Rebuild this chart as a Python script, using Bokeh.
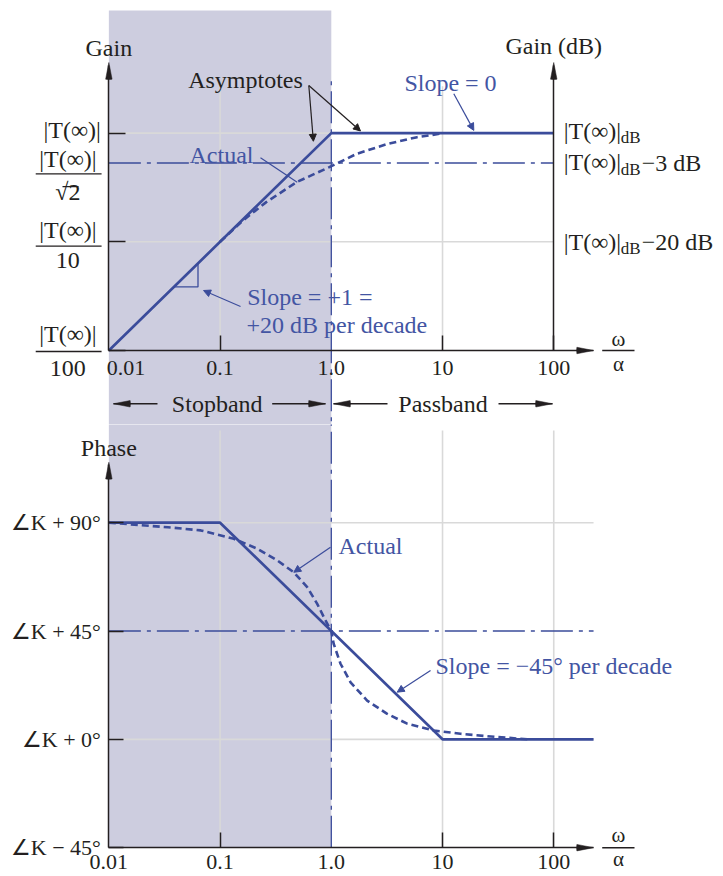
import numpy as np
from bokeh.plotting import figure
from bokeh.layouts import column
from bokeh.models import Range1d, FixedTicker, LinearAxis, Arrow, NormalHead
from bokeh.core.properties import value
from bokeh.embed import file_html
from bokeh.resources import INLINE

# ---------------- data ----------------
freq_ticks = [0.01, 0.1, 1.0, 10, 100]
freq_tick_labels = ["0.01", "0.1", "1.0", "10", "100"]
freq_minor_ticks = [0.1, 10, 100]

gain_asym_w = [0.01, 1.0, 100]
gain_asym_db = [-40, 0, 0]
gain_act_w = [0.1, 0.16, 0.26, 0.49, 0.95, 1.7, 3.2, 5.9, 9.6]
gain_act_db = [-20.0, -16.1, -12.7, -9.0, -6.3, -3.8, -2.0, -0.75, -0.1]
gain_ticks_db = [0, -20, -40]
half_power_db = -5.5          # level at which the "-3 dB" line is drawn

phase_asym_w = [0.01, 0.1, 10, 228]
phase_asym_deg = [90, 90, 0, 0]
phase_act_w = [0.01, 0.034, 0.067, 0.133, 0.216, 0.327, 0.46, 0.607, 0.747,
               0.887, 1.0, 1.05, 1.21, 1.49, 2.1, 3.18, 4.81, 8.35, 14.5, 30, 60]
phase_act_deg = [90, 88.1, 86.8, 83.3, 79.2, 74.3, 69.4, 63.2, 56.3,
                 49.4, 45, 39.7, 31.4, 23.7, 16.1, 10.6, 6.5, 3.7, 2.3, 1.0, 0]
phase_ticks = [90, 45, 0, -45]
phase_tick_labels = ["∠K + 90°", "∠K + 45°", "∠K + 0°", "∠K − 45°"]

stop_lo, corner, pass_hi = 0.01, 1.0, 100
axis_end_w = 228

# ---------------- style ----------------
FONT = "Liberation Serif"
INK = "#231F20"
BLUE = "#3B4C9B"
TBLUE = "#4355A3"
SHADE = "#CDCDDF"
GRID = "#D9D9D9"
DASHDOT = "32 6 4 6"
TS = "24px"

W = 723
H1, H2 = 424, 452
XR = (10 ** -2.9743, 10 ** 3.5263)


def txt(p, x, y, s, size=TS, color=INK, align="left", baseline="alphabetic",
        xo=0, yo=0, style="normal"):
    p.text(x=[x], y=[y], text=[s], text_font=value(FONT), text_font_size=value(size),
           text_color=color, text_align=align, text_baseline=baseline,
           x_offset=xo, y_offset=yo, text_font_style=style)


def head(p, x, y, direction_deg, color=INK):
    half = 11
    p.wedge(x=[x], y=[y], radius=17, radius_units="screen",
            start_angle=np.deg2rad(direction_deg - half),
            end_angle=np.deg2rad(direction_deg + half),
            fill_color=color, line_color=color, line_width=0.5)


def arrow(p, xs, ys, xe, ye, color=INK, width=1.2):
    p.add_layout(Arrow(end=NormalHead(size=7, fill_color=color, line_color=color),
                       x_start=xs, y_start=ys, x_end=xe, y_end=ye,
                       line_color=color, line_width=width))


def base_fig(h, yr):
    p = figure(width=W, height=h, x_axis_type="log", x_range=Range1d(*XR),
               y_range=Range1d(*yr), output_backend="svg", toolbar_location=None,
               min_border=0, outline_line_color=None)
    p.grid.visible = False
    return p


def style_xaxis(ax, fixed, labels, standoff):
    ax.fixed_location = fixed
    ax.bounds = (stop_lo, axis_end_w)
    ax.ticker = FixedTicker(ticks=freq_ticks, minor_ticks=freq_minor_ticks)
    ax.major_label_overrides = labels
    ax.major_tick_in = 0
    ax.major_tick_out = 0
    ax.minor_tick_in = 15
    ax.minor_tick_out = 0
    ax.minor_tick_line_color = INK
    ax.minor_tick_line_width = 1.5
    ax.axis_line_color = INK
    ax.axis_line_width = 1.5
    ax.major_label_standoff = standoff
    ax.major_label_text_font = FONT
    ax.major_label_text_font_size = "22px"
    ax.major_label_text_color = INK


# ======================= GAIN PANEL =======================
p1 = base_fig(H1, (-53.615, 24.398))
p1.quad(left=stop_lo, right=corner, bottom=-60, top=22.56, fill_color=SHADE, line_color=None)

# grid
p1.segment(x0=[0.1, 10], y0=[-40, -40], x1=[0.1, 10], y1=[8.6, 8.6], line_color=GRID, line_width=1.6)
p1.segment(x0=[stop_lo, stop_lo], y0=[0, -20], x1=[pass_hi, pass_hi], y1=[0, -20], line_color=GRID, line_width=1.6)

# reference lines
p1.segment(x0=[corner], y0=[-60], x1=[corner], y1=[10.0], line_color=BLUE, line_width=1.3, line_dash=DASHDOT)
p1.line([stop_lo, pass_hi], [half_power_db, half_power_db], line_color=BLUE, line_width=1.3, line_dash=DASHDOT)

# curves
p1.line(gain_act_w, gain_act_db, line_color=BLUE, line_width=2.6, line_dash="7 4")
p1.line(gain_asym_w, gain_asym_db, line_color=BLUE, line_width=2.7)

# slope triangle
p1.line([0.0385, 0.0633, 0.0633], [-28.3, -28.3, -23.97], line_color=BLUE, line_width=1.3)

# axes
xa1 = p1.xaxis[0]
style_xaxis(xa1, -40, {0.01: "", 0.1: "0.1", 1.0: "1.0", 10: "10", 100: "100"}, 10)
ya1 = p1.yaxis[0]
ya1.fixed_location = stop_lo
ya1.bounds = (-40, 12.5)
ya1.ticker = FixedTicker(ticks=gain_ticks_db)
ya1.major_tick_in = 17
ya1.major_tick_out = 0
ya1.major_tick_line_color = INK
ya1.major_tick_line_width = 1.5
ya1.minor_tick_line_color = None
ya1.major_label_text_color = None
ya1.axis_line_color = INK
ya1.axis_line_width = 1.5
ra = LinearAxis(fixed_location=pass_hi, ticker=FixedTicker(ticks=[]), bounds=(-40, 12.5),
                axis_line_color=INK, axis_line_width=1.5, major_label_text_color=None,
                major_tick_line_color=None, minor_tick_line_color=None)
p1.add_layout(ra, "right")

head(p1, axis_end_w, -40, 180)
head(p1, stop_lo, 12.99, 270)
head(p1, pass_hi, 12.99, 270)

# manual 0.01 label (shifted right in the reference)
txt(p1, stop_lo, -40, "0.01", size="22px", align="left", baseline="top", xo=-2, yo=10)

# omega / alpha
txt(p1, 382, -37.8, "ω", size="21px", align="center", baseline="middle")
txt(p1, 382, -42.4, "α", size="21px", align="center", baseline="middle")
p1.segment(x0=[272.8], y0=[-40], x1=[532.3], y1=[-40], line_color=INK, line_width=1.5)

# axis titles
txt(p1, stop_lo, 15.75, "Gain", align="center")
txt(p1, pass_hi, 16.1, "Gain (dB)", align="center")

# left gain labels
txt(p1, stop_lo, 0, "|T(∞)|", align="right", baseline="middle", xo=-8, yo=-3.6)
frac_bar_w = (0.0022, 0.0086)
for lvl, num_o, bar_db, den_o, den in [(half_power_db, -3.5, -7.49, 29.5, "√2"),
                                       (-20, -12.3, -20.81, 18.7, "10"),
                                       (-40, -17, -40.18, 17.5, "100")]:
    txt(p1, stop_lo, lvl, "|T(∞)|", align="center", baseline="middle", xo=-41, yo=num_o)
    txt(p1, stop_lo, lvl, den, align="center", baseline="middle", xo=-41, yo=den_o)
    p1.segment(x0=[frac_bar_w[0]], y0=[bar_db], x1=[frac_bar_w[1]], y1=[bar_db], line_color=INK, line_width=1.3)
p1.segment(x0=[0.00383], y0=[-9.83], x1=[0.00533], y1=[-9.83], line_color=INK, line_width=1.2)

# right gain labels
for lvl, yo_main, yo_sub, suffix in [(0, -2.6, 4, ""), (half_power_db, -1, 6.5, "−3 dB"), (-20, 0, 6.7, "−20 dB")]:
    txt(p1, pass_hi, lvl, "|T(∞)|", align="left", baseline="middle", xo=10, yo=yo_main)
    txt(p1, pass_hi, lvl, "dB", size="17px", align="left", baseline="middle", xo=67, yo=yo_sub)
    if suffix:
        txt(p1, pass_hi, lvl, suffix, align="left", baseline="middle", xo=88, yo=0)

# annotations
txt(p1, 0.1693, 9.86, "Asymptotes", align="center")
arrow(p1, 0.6277, 8.76, 0.69, -1.5)
arrow(p1, 0.6277, 8.76, 1.83, 0.4)
txt(p1, 11.8, 9.13, "Slope = 0", color=TBLUE, align="center")
arrow(p1, 12.63, 7.23, 19.11, 0.5, color=BLUE)
txt(p1, 0.103, -4.12, "Actual", color=TBLUE, align="center")
p1.segment(x0=[0.2309], y0=[-4.54], x1=[0.4935], y1=[-9.03], line_color=BLUE, line_width=1.2)
arrow(p1, 0.1527, -31.9, 0.0710, -28.96, color=BLUE)
txt(p1, 0.1753, -30.19, "Slope = +1 =", color=TBLUE)
txt(p1, 0.1727, -35.22, "+20 dB per decade", color=TBLUE)

# stopband / passband
band_y = -49.8
txt(p1, 0.0942, band_y, "Stopband", align="center", baseline="middle")
txt(p1, 10.1, band_y, "Passband", align="center", baseline="middle")
p1.segment(x0=[0.011, 0.2941, 1.0466, 31.87], y0=[band_y] * 4,
           x1=[0.02737, 0.887, 3.201, 97.46], y1=[band_y] * 4, line_color=INK, line_width=1.3)
head(p1, 0.011, band_y, 0)
head(p1, 0.887, band_y, 180)
head(p1, 1.0466, band_y, 0)
head(p1, 97.46, band_y, 180)

# ======================= PHASE PANEL =======================
p2 = base_fig(H2, (-56.98, 130.79))
p2.quad(left=stop_lo, right=corner, bottom=-45, top=140, fill_color=SHADE, line_color=None)
p2.segment(x0=[0.1, 10, 100], y0=[-45] * 3, x1=[0.1, 10, 100], y1=[128.3] * 3, line_color=GRID, line_width=1.6)
p2.segment(x0=[stop_lo, stop_lo], y0=[90, 0], x1=[axis_end_w, axis_end_w], y1=[90, 0], line_color=GRID, line_width=1.6)
p2.segment(x0=[corner], y0=[-45], x1=[corner], y1=[140], line_color=BLUE, line_width=1.3, line_dash=DASHDOT)
p2.line([stop_lo, axis_end_w], [45, 45], line_color=BLUE, line_width=1.3, line_dash=DASHDOT)

p2.line(phase_act_w, phase_act_deg, line_color=BLUE, line_width=2.6, line_dash="7 4")
p2.line(phase_asym_w, phase_asym_deg, line_color=BLUE, line_width=2.7)

xa2 = p2.xaxis[0]
style_xaxis(xa2, -45, dict(zip(freq_ticks, freq_tick_labels)), 7)
ya2 = p2.yaxis[0]
ya2.fixed_location = stop_lo
ya2.bounds = (-45, 114)
ya2.ticker = FixedTicker(ticks=phase_ticks)
ya2.major_label_overrides = dict(zip(phase_ticks, phase_tick_labels))
ya2.major_tick_in = 15
ya2.major_tick_out = 0
ya2.major_tick_line_color = INK
ya2.major_tick_line_width = 1.5
ya2.minor_tick_line_color = None
ya2.axis_line_color = INK
ya2.axis_line_width = 1.5
ya2.major_label_standoff = 8
ya2.major_label_text_font = FONT
ya2.major_label_text_font_size = "22px"
ya2.major_label_text_color = INK

head(p2, axis_end_w, -45, 180)
head(p2, stop_lo, 115.1, 270)

txt(p2, 382, -39.9, "ω", size="21px", align="center", baseline="middle")
txt(p2, 382, -49.9, "α", size="21px", align="center", baseline="middle")
p2.segment(x0=[272.8], y0=[-45], x1=[532.3], y1=[-45], line_color=INK, line_width=1.5)

txt(p2, stop_lo, 121.2, "Phase", align="center")
txt(p2, 2.25, 80.5, "Actual", color=TBLUE, align="center")
arrow(p2, 0.9835, 79.8, 0.4601, 69.4, color=BLUE)
txt(p2, 8.65, 30.3, "Slope = −45° per decade", color=TBLUE)
arrow(p2, 7.80, 28.6, 3.913, 19.6, color=BLUE)

layout = column(p1, p2, spacing=0)
open("out.html", "w").write(file_html(layout, INLINE))
